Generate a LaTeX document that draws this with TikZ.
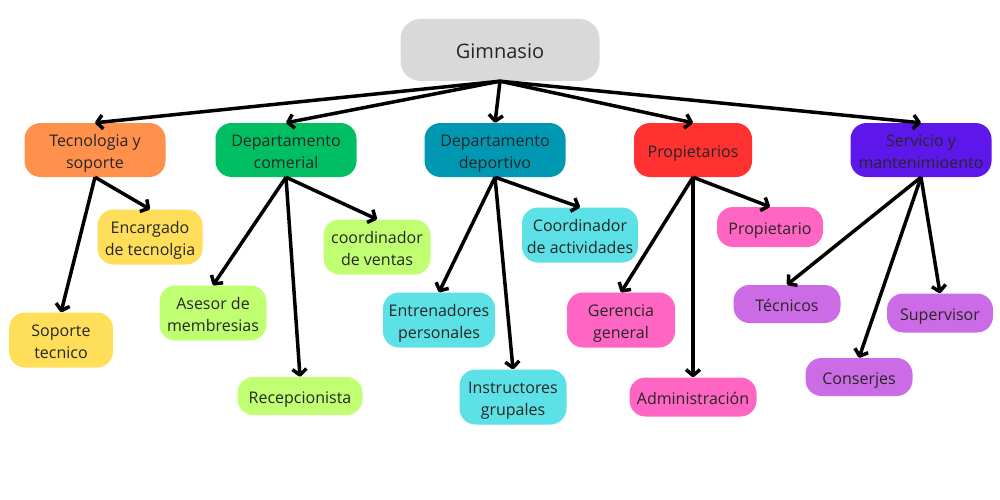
\documentclass[tikz,border=0pt]{standalone}
\usepackage{fontspec}
\setmainfont{Open Sans}
\usepackage{tikz}
\usetikzlibrary{arrows.meta,positioning}
\definecolor{gris}{HTML}{D9D9D9}
\definecolor{naranja}{HTML}{FF914D}
\definecolor{verde}{HTML}{00BF63}
\definecolor{azul}{HTML}{0097B2}
\definecolor{rojo}{HTML}{FF3131}
\definecolor{morado}{HTML}{5E17EB}
\definecolor{amarillo}{HTML}{FFDE59}
\definecolor{lima}{HTML}{C1FF72}
\definecolor{celeste}{HTML}{5CE1E6}
\definecolor{rosa}{HTML}{FF66C4}
\definecolor{lila}{HTML}{CB6CE6}
\tikzset{
  caja/.style={rounded corners=16pt, align=center, inner sep=2pt, text=black!85,
    font=\fontsize{16}{22}\selectfont, text height=18.5pt, text depth=4pt},
  dos/.style={text height=40.5pt},
  area/.style={caja, minimum width=141pt, minimum height=54pt},
  puesto/.style={caja, minimum width=107pt, minimum height=55pt},
  flecha/.style={-{Straight Barb[length=6pt,width=14pt,line join=round]}, line width=3.5pt}
}

\begin{document}
\begin{tikzpicture}[x=1pt,y=-1pt]
    \useasboundingbox (0,0) rectangle (1000,500);

    % Raiz
    \node[caja, fill=gris, minimum width=199pt, minimum height=62pt, rounded corners=20pt,
      font=\fontsize{20}{24}\selectfont, text height=22pt, text depth=5pt] (gim) at (500,50) {Gimnasio};

    % Areas
    \node[area, dos, fill=naranja] (tec) at (95,150) {Tecnologia y\\soporte};
    \node[area, dos, fill=verde] (com) at (286,150) {Departamento\\comerial};
    \node[area, dos, fill=azul] (dep) at (495,150) {Departamento\\deportivo};
    \node[area, fill=rojo, minimum width=118pt] (pro) at (693,150) {Propietarios};
    \node[area, dos, fill=morado] (ser) at (921,150) {Servicio y\\mantenimioento};

    % Tecnologia y soporte
    \node[puesto, dos, fill=amarillo, minimum width=105pt] (enc) at (150,237) {Encargado\\de tecnolgia};
    \node[puesto, dos, fill=amarillo, minimum width=104pt] (sop) at (61,340) {Soporte\\tecnico};

    % Departamento comerial
    \node[puesto, dos, fill=lima] (ase) at (213,313) {Asesor de\\membresias};
    \node[puesto, fill=lima, minimum width=125pt, minimum height=38pt] (rec) at (300,396) {Recepcionista};
    \node[puesto, dos, fill=lima] (ven) at (377,247) {coordinador\\de ventas};

    % Departamento deportivo
    \node[puesto, dos, fill=celeste, minimum width=112pt] (ent) at (439,320) {Entrenadores\\personales};
    \node[puesto, dos, fill=celeste] (ins) at (513,397) {Instructores\\grupales};
    \node[puesto, dos, fill=celeste, minimum width=116pt] (act) at (580,235) {Coordinador\\de actividades};

    % Propietarios
    \node[puesto, dos, fill=rosa, minimum width=108pt] (ger) at (621,320) {Gerencia\\general};
    \node[puesto, fill=rosa, minimum width=127pt, minimum height=39pt] (adm) at (693,397) {Administración};
    \node[puesto, fill=rosa, minimum width=106pt, minimum height=40pt] (prp) at (770,227) {Propietario};

    % Servicio y mantenimiento
    \node[puesto, fill=lila, minimum height=38pt] (tcn) at (787,304) {Técnicos};
    \node[puesto, fill=lila, minimum width=106pt, minimum height=39pt] (sup) at (940,313) {Supervisor};
    \node[puesto, fill=lila, minimum height=38pt] (con) at (859,377) {Conserjes};

    % Flechas
    \foreach \a in {tec,com,dep,pro,ser}
      \draw[flecha] (gim.south) -- (\a.north);
    \foreach \a in {enc,sop}
      \draw[flecha] (tec.south) -- (\a.north);
    \foreach \a in {ase,rec,ven}
      \draw[flecha] (com.south) -- (\a.north);
    \foreach \a in {ent,ins,act}
      \draw[flecha] (dep.south) -- (\a.north);
    \foreach \a in {ger,adm,prp}
      \draw[flecha] (pro.south) -- (\a.north);
    \foreach \a in {tcn,sup,con}
      \draw[flecha] (ser.south) -- (\a.north);
\end{tikzpicture}
\end{document}
